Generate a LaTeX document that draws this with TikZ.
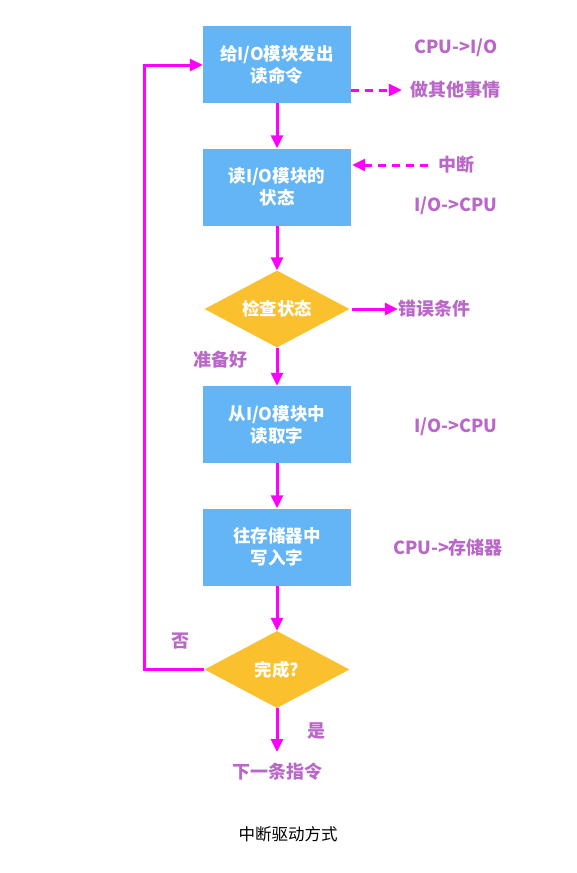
\documentclass[tikz,border=0pt]{standalone}
\usepackage{fontspec}
\setmainfont{Noto Sans CJK SC}
\usetikzlibrary{arrows.meta,shapes.geometric}
\definecolor{boxblue}{HTML}{64B5F6}
\definecolor{dyellow}{HTML}{FBC02D}
\definecolor{mag}{HTML}{FF00FF}
\definecolor{lbl}{HTML}{BA68C8}
\begin{document}
\begin{tikzpicture}[x=1pt,y=-1pt,
  stepbox/.style={fill=boxblue,minimum width=148pt,minimum height=77pt,inner sep=0pt,text=white,font=\fontsize{17.5}{22}\selectfont\bfseries,align=center},
  decide/.style={diamond,fill=dyellow,minimum width=145pt,minimum height=77pt,inner sep=0pt,aspect=1.88,text=white,font=\fontsize{17.5}{22}\selectfont\bfseries,align=center},
  lab/.style={text=lbl,font=\fontsize{18}{22}\selectfont\bfseries,inner sep=0pt},
  flow/.style={draw=mag,line width=3pt,-{Triangle[length=13pt,width=12pt]}},
  dflow/.style={flow,dashed,dash pattern=on 8pt off 6pt}
]
\useasboundingbox (0,0) rectangle (577,873);
\node[stepbox] (b1) at (277,64.5) {给I/O模块发出\\读命令};
\node[stepbox] (b2) at (277,187) {读I/O模块的\\状态};
\node[decide] (d1) at (277,309) {检查状态};
\node[stepbox] (b3) at (277,424.5) {从I/O模块中\\读取字};
\node[stepbox] (b4) at (277,547) {往存储器中\\写入字};
\node[decide] (d2) at (277,669.5) {完成?};

\node[lab] (l1) at (456,48) {CPU->I/O};
\node[lab] (l2) at (455,90) {做其他事情};
\node[lab] (l3) at (456,165) {中断};
\node[lab] (l4) at (456,206) {I/O->CPU};
\node[lab] (l5) at (434,309) {错误条件};
\node[lab] (l6) at (220,360) {准备好};
\node[lab] (l7) at (456,427) {I/O->CPU};
\node[lab] (l8) at (448,548) {CPU->存储器};
\node[lab] (l9) at (180,641) {否};
\node[lab] (l10) at (316,731) {是};
\node[lab] (l11) at (277,772) {下一条指令};
\node[font=\fontsize{16.5}{20}\selectfont,inner sep=0pt] (cap) at (288,834) {中断驱动方式};

\coordinate (e1) at (277,752);
\coordinate (c1) at (144,669.5);
\coordinate (c2) at (144,65);

\draw[flow] (b1) -- (b2);
\draw[flow] (b2) -- (d1);
\draw[flow] (d1) -- (b3);
\draw[flow] (b3) -- (b4);
\draw[flow] (b4) -- (d2);
\draw[flow] (d2.south) -- (e1);
\draw[flow] (d2.west) -- (c1) -- (c2) -- (b1.west |- c2);
\draw[flow,shorten <=2pt] (d1.east) -- (l5.west);
\draw[dflow,shorten >=8pt] (b1.east |- l2) -- (l2.west);
\draw[dflow,shorten <=10pt,shorten >=1pt] (l3.west) -- (b2.east |- l3);
\end{tikzpicture}
\end{document}
